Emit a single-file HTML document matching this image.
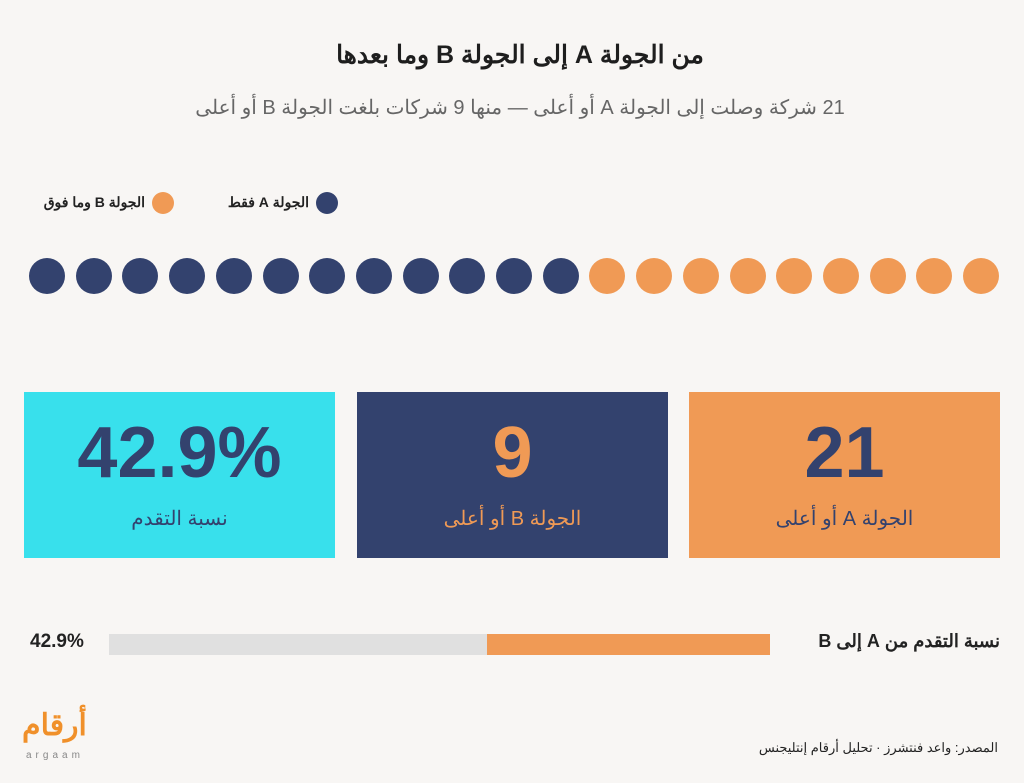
<!DOCTYPE html>
<html><head><meta charset="utf-8"><style>
body{margin:0;width:1024px;height:783px;background:#f8f6f4;position:relative;overflow:hidden;font-family:"Liberation Sans","Noto Sans CJK SC",sans-serif;}
.a{position:absolute;}
.t{direction:rtl;white-space:nowrap;}
.dot{position:absolute;width:36px;height:36px;border-radius:50%;top:258px;}
.box{position:absolute;top:392px;height:166px;width:311px;text-align:center;}
.num{position:absolute;left:0;right:0;top:20px;font-size:72px;font-weight:bold;color:#33426e;}
.lab{position:absolute;left:0;right:0;top:114px;font-size:20px;direction:rtl;}
</style></head><body>
<div class="a t" style="left:0;width:1040px;text-align:center;top:40px;font-size:25px;font-weight:bold;color:#1e1e1e;">من الجولة A إلى الجولة B وما بعدها</div>
<div class="a t" style="left:0;width:1040px;text-align:center;top:95px;font-size:20px;color:#666;">21 شركة وصلت إلى الجولة A أو أعلى — منها 9 شركات بلغت الجولة B أو أعلى</div>
<div class="a" style="left:316px;top:192px;width:22px;height:22px;border-radius:50%;background:#33426e"></div>
<div class="a t" style="right:715px;top:194px;font-size:14px;font-weight:bold;color:#222;">الجولة A فقط</div>
<div class="a" style="left:152px;top:192px;width:22px;height:22px;border-radius:50%;background:#f09a55"></div>
<div class="a t" style="right:879px;top:194px;font-size:14px;font-weight:bold;color:#222;">الجولة B وما فوق</div>
<div id="dots"></div>
<div class="box" style="left:24px;background:#38e0ec"><div class="num">42.9%</div><div class="lab" style="color:#33426e">نسبة التقدم</div></div>
<div class="box" style="left:357px;background:#33426e"><div class="num" style="color:#f09a55">9</div><div class="lab" style="color:#f09a55">الجولة B أو أعلى</div></div>
<div class="box" style="left:689px;background:#f09a55"><div class="num">21</div><div class="lab" style="color:#33426e">الجولة A أو أعلى</div></div>
<div class="a" style="left:109px;top:634px;width:661px;height:21px;background:#e0e0e0"></div>
<div class="a" style="left:487px;top:634px;width:283px;height:21px;background:#f09a55"></div>
<div class="a" style="left:30px;top:631px;font-size:19px;font-weight:bold;color:#222;">42.9%</div>
<div class="a t" style="right:24px;top:631px;font-size:18px;font-weight:bold;color:#222;">نسبة التقدم من A إلى B</div>
<div class="a t" style="left:22px;top:708px;font-size:30px;font-weight:bold;color:#f0902a;">أرقام</div>
<div class="a" style="left:26px;top:750px;font-size:10px;letter-spacing:4px;color:#888;">argaam</div>
<div class="a t" style="right:26px;top:740px;font-size:13px;color:#222;">المصدر: واعد فنتشرز · تحليل أرقام إنتليجنس</div>
<script>
var h='';for(var i=0;i<21;i++){var x=29+i*46.7;h+='<div class="dot" style="left:'+x+'px;background:'+(i<12?'#33426e':'#f09a55')+'"></div>';}
document.getElementById('dots').innerHTML=h;
</script>
</body></html>
